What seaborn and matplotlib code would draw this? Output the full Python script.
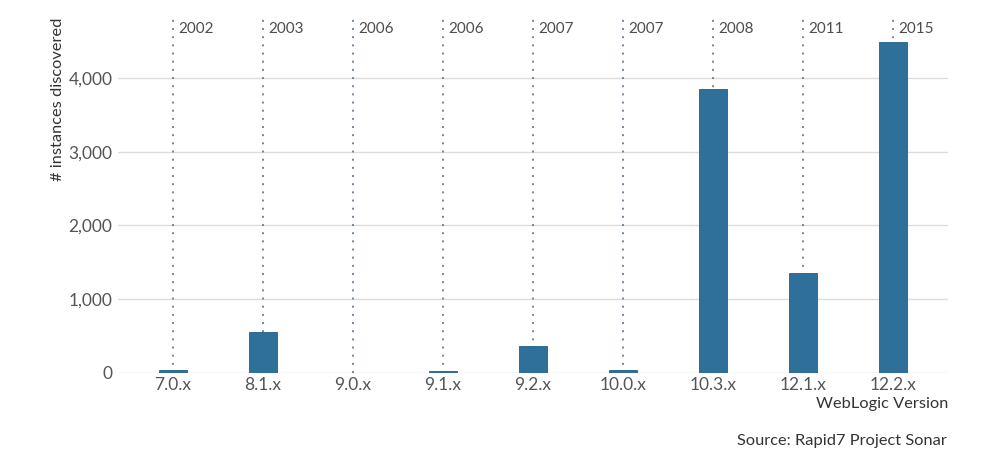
import pandas as pd
import matplotlib.pyplot as plt
import seaborn as sns

# WebLogic versions, instance counts and release years
versions = ['7.0.x', '8.1.x', '9.0.x', '9.1.x', '9.2.x', '10.0.x', '10.3.x', '12.1.x', '12.2.x']
instances = [40, 552, 3, 22, 366, 40, 3851, 1360, 4492]
years = ['2002', '2003', '2006', '2006', '2007', '2007', '2008', '2011', '2015']

df = pd.DataFrame({'version': versions, 'instances': instances, 'year': years})

sns.set_theme(style="white")
plt.rcParams['font.family'] = ['Lato', 'DejaVu Sans']

fig = plt.figure(figsize=(10, 4.59), dpi=100)
ax = fig.add_axes([0.118, 0.1874, 0.83, 0.7734])

bar_color = '#2e7099'
sns.barplot(data=df, x='version', y='instances', color=bar_color,
            width=0.32, saturation=1, zorder=3, ax=ax)
for p in ax.patches:
    p.set_edgecolor('#1f5f87')
    p.set_linewidth(0.6)

# dotted release-year markers
for i, yr in enumerate(df['year']):
    ax.axvline(i, color='#6f8797', linestyle=(0, (1, 3.2)), linewidth=1.4, zorder=2)
    ax.text(i + 0.055, 0.969, yr, transform=ax.get_xaxis_transform(),
            ha='left', va='center', fontsize=11, color='#4d4d4d')

ax.set_xlim(-0.61, len(versions) - 1 + 0.61)
ax.set_ylim(0, 4813)
ax.set_yticks([0, 1000, 2000, 3000, 4000])
ax.set_yticklabels(['0', '1,000', '2,000', '3,000', '4,000'])
ax.yaxis.grid(True, color='#dcdcdc', linewidth=1, zorder=0)
ax.set_axisbelow(True)
for s in ax.spines.values():
    s.set_visible(False)

ax.tick_params(axis='both', length=0, labelsize=12.5, labelcolor='#555555')
ax.tick_params(axis='y', pad=4)
ax.tick_params(axis='x', pad=3)

ax.set_ylabel('# instances discovered', fontsize=11.8, color='#333333', loc='top')
ax.yaxis.set_label_coords(-0.064, 1.0)
ax.set_xlabel('WebLogic Version', fontsize=11.8, color='#333333', loc='right', labelpad=3)

fig.text(0.947, 0.039, 'Source: Rapid7 Project Sonar', ha='right', va='center',
         fontsize=11.8, color='#333333')

fig.savefig('out.png', dpi=100)
